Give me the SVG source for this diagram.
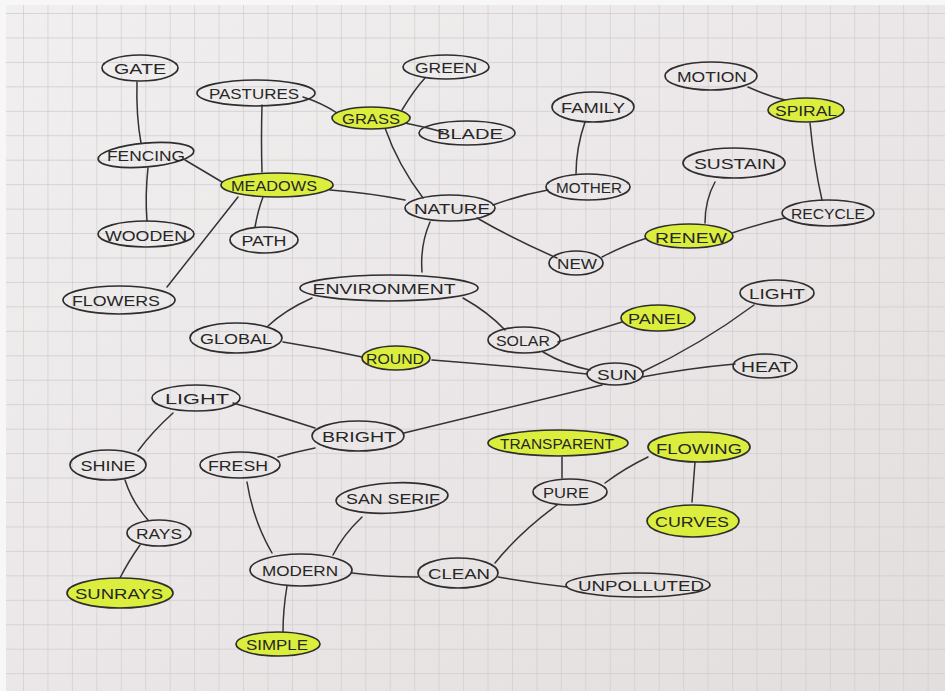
<svg xmlns="http://www.w3.org/2000/svg" width="945" height="691" viewBox="0 0 945 691">
  <defs>
    <pattern id="grid" x="23" y="13" width="24.45" height="24.45" patternUnits="userSpaceOnUse">
      <path d="M0 0V24.45M0 0H24.45" fill="none" stroke="#cfcacb" stroke-width="1.3"/>
    </pattern>
    <linearGradient id="paper" x1="0" y1="0" x2="1" y2="1">
      <stop offset="0" stop-color="#f1efef"/>
      <stop offset="0.5" stop-color="#ebe7e8"/>
      <stop offset="1" stop-color="#e2dedd"/>
    </linearGradient>
    <style>
      .n { fill: none; stroke: #2e2e2e; stroke-width: 1.7; }
      .h { fill: #dbee3e; stroke: #2e2e2e; stroke-width: 1.7; }
      .t { font-family: "Liberation Sans", Arial, sans-serif; font-size: 15px; fill: #262626; text-anchor: middle; dominant-baseline: central; }
      #connectors path { fill: none; stroke: #333; stroke-width: 1.5; stroke-linecap: round; }
    </style>
  </defs>
  <rect width="945" height="691" fill="#f7f7f7"/>
  <rect x="6" y="5" width="939" height="686" fill="url(#paper)"/>
  <rect x="6" y="5" width="939" height="686" fill="url(#grid)"/>

  <g id="connectors">
    <path d="M137 82 Q136 115 141 143"/>
    <path d="M148 168 Q145 195 147 221"/>
    <path d="M185 160 L222 182"/>
    <path d="M262 105 Q261 140 262 172"/>
    <path d="M263 197 Q258 210 255 227"/>
    <path d="M238 197 L167 287"/>
    <path d="M303 97 Q322 103 337 113"/>
    <path d="M402 110 Q414 90 425 78"/>
    <path d="M405 123 Q425 127 443 132"/>
    <path d="M385 128 Q398 165 423 198"/>
    <path d="M330 190 Q370 193 405 200"/>
    <path d="M430 222 Q420 245 422 272"/>
    <path d="M493 205 Q520 195 548 190"/>
    <path d="M477 218 Q515 240 557 258"/>
    <path d="M585 122 Q576 148 576 174"/>
    <path d="M602 257 Q625 245 647 238"/>
    <path d="M715 182 Q705 200 705 223"/>
    <path d="M732 233 Q758 224 785 218"/>
    <path d="M748 87 Q768 96 785 100"/>
    <path d="M810 123 Q814 165 822 200"/>
    <path d="M312 298 Q285 310 268 326"/>
    <path d="M463 298 Q488 312 505 330"/>
    <path d="M283 342 Q322 348 362 357"/>
    <path d="M587 374 Q510 366 432 360"/>
    <path d="M558 342 Q590 332 622 322"/>
    <path d="M543 352 Q565 365 590 370"/>
    <path d="M642 372 Q700 345 754 305"/>
    <path d="M642 377 Q690 368 735 364"/>
    <path d="M602 385 Q500 410 404 433"/>
    <path d="M233 403 Q275 415 315 428"/>
    <path d="M173 413 Q152 432 138 451"/>
    <path d="M125 480 Q132 502 148 520"/>
    <path d="M140 545 Q128 562 120 578"/>
    <path d="M315 448 Q295 452 278 457"/>
    <path d="M247 482 Q253 520 272 553"/>
    <path d="M362 517 Q343 535 333 555"/>
    <path d="M287 586 Q283 610 283 632"/>
    <path d="M352 573 Q385 577 418 577"/>
    <path d="M495 563 Q520 532 557 505"/>
    <path d="M498 577 Q532 583 567 587"/>
    <path d="M562 457 L562 478"/>
    <path d="M605 483 Q625 468 648 457"/>
    <path d="M695 462 L692 502"/>
  </g>

  <g id="gate"><ellipse class="n" cx="140" cy="68" rx="38" ry="13"/><text class="t" x="140" y="68" textLength="52" lengthAdjust="spacingAndGlyphs">GATE</text></g>
  <g id="pastures"><ellipse class="n" cx="256" cy="93" rx="59" ry="13"/><text class="t" x="254" y="93" textLength="90" lengthAdjust="spacingAndGlyphs">PASTURES</text></g>
  <g id="green"><ellipse class="n" cx="446" cy="67" rx="43" ry="12"/><text class="t" x="446" y="67" textLength="62" lengthAdjust="spacingAndGlyphs">GREEN</text></g>
  <g id="grass"><ellipse class="h" cx="371" cy="118" rx="39" ry="11"/><text class="t" x="371" y="118" textLength="58" lengthAdjust="spacingAndGlyphs">GRASS</text></g>
  <g id="blade"><ellipse class="n" cx="467" cy="133" rx="48" ry="12"/><text class="t" x="470" y="133" textLength="66" lengthAdjust="spacingAndGlyphs">BLADE</text></g>
  <g id="family"><ellipse class="n" cx="593" cy="107" rx="41" ry="15"/><text class="t" x="593" y="107" textLength="64" lengthAdjust="spacingAndGlyphs">FAMILY</text></g>
  <g id="motion"><ellipse class="n" cx="711" cy="76" rx="46" ry="14"/><text class="t" x="712" y="76" textLength="70" lengthAdjust="spacingAndGlyphs">MOTION</text></g>
  <g id="spiral"><ellipse class="h" cx="806" cy="110" rx="38" ry="12"/><text class="t" x="806" y="110" textLength="62" lengthAdjust="spacingAndGlyphs">SPIRAL</text></g>
  <g id="fencing"><ellipse class="n" cx="146" cy="155" rx="48" ry="12" transform="rotate(-5 146 155)"/><text class="t" x="146" y="155" textLength="78" lengthAdjust="spacingAndGlyphs">FENCING</text></g>
  <g id="meadows"><ellipse class="h" cx="277" cy="185" rx="56" ry="12"/><text class="t" x="274" y="185" textLength="86" lengthAdjust="spacingAndGlyphs">MEADOWS</text></g>
  <g id="nature"><ellipse class="n" cx="450" cy="208" rx="45" ry="13"/><text class="t" x="452" y="208" textLength="76" lengthAdjust="spacingAndGlyphs">NATURE</text></g>
  <g id="mother"><ellipse class="n" cx="588" cy="187" rx="42" ry="13"/><text class="t" x="589" y="187" textLength="66" lengthAdjust="spacingAndGlyphs">MOTHER</text></g>
  <g id="sustain"><ellipse class="n" cx="734" cy="163" rx="51" ry="15"/><text class="t" x="735" y="163" textLength="82" lengthAdjust="spacingAndGlyphs">SUSTAIN</text></g>
  <g id="recycle"><ellipse class="n" cx="828" cy="213" rx="46" ry="13"/><text class="t" x="828" y="213" textLength="74" lengthAdjust="spacingAndGlyphs">RECYCLE</text></g>
  <g id="renew"><ellipse class="h" cx="689" cy="236" rx="44" ry="12"/><text class="t" x="691" y="237" textLength="72" lengthAdjust="spacingAndGlyphs">RENEW</text></g>
  <g id="new"><ellipse class="n" cx="576" cy="263" rx="27" ry="12"/><text class="t" x="577" y="263" textLength="40" lengthAdjust="spacingAndGlyphs">NEW</text></g>
  <g id="wooden"><ellipse class="n" cx="146" cy="234" rx="48" ry="13"/><text class="t" x="146" y="235" textLength="82" lengthAdjust="spacingAndGlyphs">WOODEN</text></g>
  <g id="path"><ellipse class="n" cx="264" cy="240" rx="34" ry="13"/><text class="t" x="264" y="240" textLength="45" lengthAdjust="spacingAndGlyphs">PATH</text></g>
  <g id="flowers"><ellipse class="n" cx="119" cy="300" rx="56" ry="14"/><text class="t" x="116" y="300" textLength="88" lengthAdjust="spacingAndGlyphs">FLOWERS</text></g>
  <g id="environment"><ellipse class="n" cx="389" cy="288" rx="89" ry="13"/><text class="t" x="384" y="288" textLength="143" lengthAdjust="spacingAndGlyphs">ENVIRONMENT</text></g>
  <g id="light-right"><ellipse class="n" cx="777" cy="293" rx="37" ry="13"/><text class="t" x="777" y="293" textLength="56" lengthAdjust="spacingAndGlyphs">LIGHT</text></g>
  <g id="panel"><ellipse class="h" cx="658" cy="318" rx="37" ry="13"/><text class="t" x="657" y="318" textLength="58" lengthAdjust="spacingAndGlyphs">PANEL</text></g>
  <g id="global"><ellipse class="n" cx="236" cy="338" rx="46" ry="15"/><text class="t" x="236" y="338" textLength="72" lengthAdjust="spacingAndGlyphs">GLOBAL</text></g>
  <g id="round"><ellipse class="h" cx="396" cy="358" rx="34" ry="12"/><text class="t" x="395" y="358" textLength="58" lengthAdjust="spacingAndGlyphs">ROUND</text></g>
  <g id="solar"><ellipse class="n" cx="524" cy="340" rx="36" ry="13"/><text class="t" x="523" y="340" textLength="54" lengthAdjust="spacingAndGlyphs">SOLAR</text></g>
  <g id="sun"><ellipse class="n" cx="615" cy="374" rx="28" ry="11"/><text class="t" x="617" y="374" textLength="40" lengthAdjust="spacingAndGlyphs">SUN</text></g>
  <g id="heat"><ellipse class="n" cx="765" cy="366" rx="32" ry="12"/><text class="t" x="766" y="366" textLength="50" lengthAdjust="spacingAndGlyphs">HEAT</text></g>
  <g id="light-left"><ellipse class="n" cx="196" cy="398" rx="44" ry="13"/><text class="t" x="197" y="398" textLength="64" lengthAdjust="spacingAndGlyphs">LIGHT</text></g>
  <g id="bright"><ellipse class="n" cx="358" cy="436" rx="46" ry="15"/><text class="t" x="359" y="436" textLength="74" lengthAdjust="spacingAndGlyphs">BRIGHT</text></g>
  <g id="shine"><ellipse class="n" cx="108" cy="465" rx="38" ry="15"/><text class="t" x="108" y="465" textLength="55" lengthAdjust="spacingAndGlyphs">SHINE</text></g>
  <g id="fresh"><ellipse class="n" cx="240" cy="465" rx="40" ry="13"/><text class="t" x="238" y="465" textLength="60" lengthAdjust="spacingAndGlyphs">FRESH</text></g>
  <g id="san-serif"><ellipse class="n" cx="392" cy="498" rx="56" ry="15" transform="rotate(-3 392 498)"/><text class="t" x="393" y="498" textLength="94" lengthAdjust="spacingAndGlyphs">SAN SERIF</text></g>
  <g id="transparent"><ellipse class="h" cx="558" cy="443" rx="70" ry="13"/><text class="t" x="557" y="443" textLength="114" lengthAdjust="spacingAndGlyphs">TRANSPARENT</text></g>
  <g id="flowing"><ellipse class="h" cx="699" cy="447" rx="51" ry="15"/><text class="t" x="699" y="448" textLength="86" lengthAdjust="spacingAndGlyphs">FLOWING</text></g>
  <g id="pure"><ellipse class="n" cx="570" cy="492" rx="37" ry="13"/><text class="t" x="566" y="492" textLength="46" lengthAdjust="spacingAndGlyphs">PURE</text></g>
  <g id="curves"><ellipse class="h" cx="693" cy="521" rx="46" ry="16"/><text class="t" x="692" y="521" textLength="74" lengthAdjust="spacingAndGlyphs">CURVES</text></g>
  <g id="rays"><ellipse class="n" cx="159" cy="533" rx="32" ry="13"/><text class="t" x="159" y="533" textLength="46" lengthAdjust="spacingAndGlyphs">RAYS</text></g>
  <g id="sunrays"><ellipse class="h" cx="120" cy="593" rx="53" ry="15"/><text class="t" x="119" y="593" textLength="88" lengthAdjust="spacingAndGlyphs">SUNRAYS</text></g>
  <g id="modern"><ellipse class="n" cx="301" cy="570" rx="51" ry="16"/><text class="t" x="300" y="570" textLength="76" lengthAdjust="spacingAndGlyphs">MODERN</text></g>
  <g id="clean"><ellipse class="n" cx="458" cy="573" rx="40" ry="15"/><text class="t" x="459" y="573" textLength="62" lengthAdjust="spacingAndGlyphs">CLEAN</text></g>
  <g id="unpolluted"><ellipse class="n" cx="638" cy="585" rx="72" ry="12"/><text class="t" x="641" y="585" textLength="126" lengthAdjust="spacingAndGlyphs">UNPOLLUTED</text></g>
  <g id="simple"><ellipse class="h" cx="278" cy="644" rx="42" ry="12"/><text class="t" x="277" y="644" textLength="62" lengthAdjust="spacingAndGlyphs">SIMPLE</text></g>
</svg>
